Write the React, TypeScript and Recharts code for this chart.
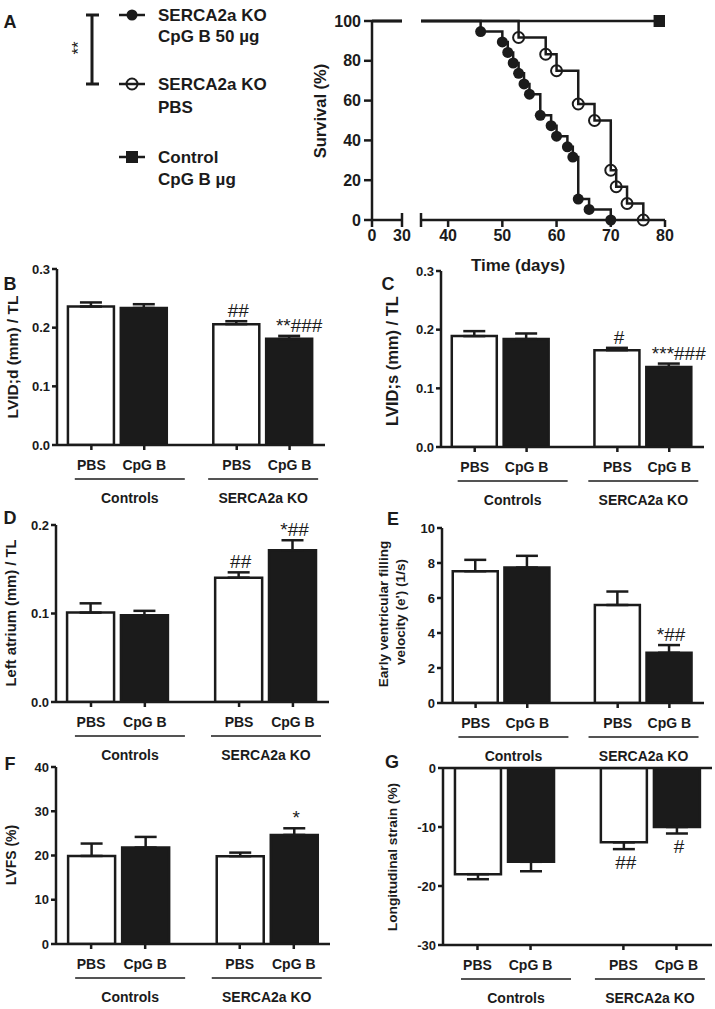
import React from 'react';
import {
  BarChart,
  Bar,
  XAxis,
  YAxis,
  ErrorBar,
  Cell,
  LabelList,
  ReferenceLine,
  LineChart,
  Line,
} from 'recharts';

const FONT = '"Liberation Sans", Arial, Helvetica, sans-serif';
const INK = '#1b1b1b';

// ---- A: Kaplan-Meier survival (day of event -> % surviving after it) ----
const CPG_DAYS = [46, 50, 51, 52, 53, 54, 55, 57, 59, 60, 62, 63, 64, 66, 70];
const CPG_SURVIVAL = [94.7, 89.5, 84.2, 78.9, 73.7, 68.4, 63.2, 52.6, 47.4, 42.1, 36.8, 31.6, 10.5, 5.3, 0];
const PBS_DAYS = [53, 58, 60, 64, 67, 70, 71, 73, 76];
const PBS_SURVIVAL = [91.7, 83.3, 75, 58.3, 50, 25, 16.7, 8.3, 0];
const CTRL_DAYS = [79];
const CTRL_SURVIVAL = [100];
const SURV_TICKS = [0, 20, 40, 60, 80, 100];
const DAY_TICKS_LEFT = [0, 30];
const DAY_TICKS_RIGHT = [35, 40, 50, 60, 70, 80];

// ---- B-G: echo bars ----
const TREATMENTS = ['PBS', 'CpG B', 'PBS', 'CpG B'];
const GROUPS = ['Controls', 'SERCA2a KO'];

const LVIDD_MEAN = [0.236, 0.2335, 0.206, 0.181];
const LVIDD_SEM = [0.007, 0.0065, 0.005, 0.005];
const LVIDD_SIG = ['', '', '##', '**###'];

const LVIDS_MEAN = [0.189, 0.184, 0.165, 0.1365];
const LVIDS_SEM = [0.0085, 0.0095, 0.004, 0.0057];
const LVIDS_SIG = ['', '', '#', '***###'];

const LA_MEAN = [0.101, 0.098, 0.1405, 0.1715];
const LA_SEM = [0.0105, 0.005, 0.006, 0.0113];
const LA_SIG = ['', '', '##', '*##'];

const EPRIME_MEAN = [7.53, 7.74, 5.6, 2.87];
const EPRIME_SEM = [0.65, 0.67, 0.77, 0.44];
const EPRIME_SIG = ['', '', '', '*##'];

const LVFS_MEAN = [19.9, 21.8, 19.85, 24.65];
const LVFS_SEM = [2.8, 2.4, 0.8, 1.5];
const LVFS_SIG = ['', '', '', '*'];

const STRAIN_MEAN = [-18.0, -15.9, -12.6, -10.0];
const STRAIN_SEM = [0.85, 1.6, 1.15, 1.1];
const STRAIN_SIG = ['', '', '##', '#'];

const stepAt = (days: number[], surv: number[], day: number) => {
  let v = 100;
  days.forEach((d, i) => {
    if (d <= day) v = surv[i];
  });
  return v;
};

const segment = (days: number[], surv: number[], from: number, to: number, closeEnd: boolean) => {
  const pts = [{ day: from, pct: stepAt(days, surv, from) }];
  days.forEach((d, i) => {
    if (d > from && d <= to) pts.push({ day: d, pct: surv[i] });
  });
  if (closeEnd) pts.push({ day: to, pct: stepAt(days, surv, to) });
  return pts;
};

const makeDot = (kind: string) => (p: any) => {
  const { cx, cy, index, key } = p;
  if (index === 0 || cx == null) return <g key={key} />;
  if (kind === 'filled') return <circle key={key} cx={cx} cy={cy} r={5.5} fill={INK} />;
  if (kind === 'open')
    return <circle key={key} cx={cx} cy={cy} r={5.5} fill="none" stroke={INK} strokeWidth={2} />;
  return <rect key={key} x={cx - 6} y={cy - 6} width={12} height={12} fill={INK} />;
};

const survTick = (breakAt: number) => (p: any) => {
  const { x, y, payload } = p;
  const axisY = y - 10;
  return (
    <g>
      {payload.value === breakAt && (
        <line x1={x} x2={x} y1={axisY - 7} y2={axisY} stroke={INK} strokeWidth={2.5} />
      )}
      <text x={x} y={y} dy="0.71em" textAnchor="middle" fontSize={16} fontWeight="bold" fill={INK} fontFamily={FONT}>
        {payload.value === 35 ? '' : payload.value}
      </text>
    </g>
  );
};

function Survival() {
  const axisStyle = { stroke: INK, strokeWidth: 2.5 };
  const series = [
    { days: CPG_DAYS, surv: CPG_SURVIVAL, dot: 'filled' },
    { days: PBS_DAYS, surv: PBS_SURVIVAL, dot: 'open' },
    { days: CTRL_DAYS, surv: CTRL_SURVIVAL, dot: 'square' },
  ];
  return (
    <>
      <div style={{ position: 'absolute', left: 300, top: 0 }}>
        <LineChart width={114} height={280} margin={{ top: 21, right: 12, left: 0, bottom: 10 }}>
          <XAxis
            type="number"
            dataKey="day"
            domain={[0, 30]}
            ticks={DAY_TICKS_LEFT}
            interval={0}
            allowDataOverflow
            height={50}
            tickSize={7}
            tickMargin={3}
            axisLine={axisStyle}
            tickLine={axisStyle}
            tick={survTick(30)}
          />
          <YAxis
            type="number"
            domain={[0, 100]}
            ticks={SURV_TICKS}
            interval={0}
            width={72}
            tickSize={8}
            tickMargin={3}
            axisLine={axisStyle}
            tickLine={axisStyle}
            tick={{ fontSize: 16, fontWeight: 'bold', fill: INK, fontFamily: FONT }}
          />
          {series.map((s, i) => (
            <Line
              key={i}
              data={segment(s.days, s.surv, 0, 30, true)}
              dataKey="pct"
              type="stepAfter"
              stroke={INK}
              strokeWidth={2.5}
              dot={false}
              isAnimationActive={false}
            />
          ))}
        </LineChart>
      </div>
      <div style={{ position: 'absolute', left: 410, top: 0 }}>
        <LineChart width={275} height={280} margin={{ top: 21, right: 20, left: 11, bottom: 10 }}>
          <XAxis
            type="number"
            dataKey="day"
            domain={[35, 80]}
            ticks={DAY_TICKS_RIGHT}
            interval={0}
            allowDataOverflow
            height={50}
            tickSize={7}
            tickMargin={3}
            axisLine={axisStyle}
            tickLine={axisStyle}
            tick={survTick(35)}
          />
          <YAxis hide width={0} type="number" domain={[0, 100]} />
          {series.map((s, i) => (
            <Line
              key={i}
              data={segment(s.days, s.surv, 35, 80, false)}
              dataKey="pct"
              type="stepAfter"
              stroke={INK}
              strokeWidth={2.5}
              dot={makeDot(s.dot)}
              isAnimationActive={false}
            />
          ))}
        </LineChart>
      </div>
    </>
  );
}

const X_MIN = 0.35;
const X_MAX = 5.42;
const slotOf = (i: number) => i + 1 + (i >= 2 ? 0.75 : 0);

type PanelProps = {
  left: number;
  top: number;
  width: number;
  height: number;
  domain: [number, number];
  ticks: number[];
  digits: number;
  mean: number[];
  sem: number[];
  sig: string[];
  zeroLine?: boolean;
};

function BarPanel(p: PanelProps) {
  const MT = 12;
  const YW = 60;
  const MR = 14;
  const XH = 64;
  const slots = TREATMENTS.map((_, i) => slotOf(i));
  const data = p.mean.map((m, i) => ({
    slot: slots[i],
    m,
    err: m >= 0 ? [0, p.sem[i]] : [p.sem[i], 0],
  }));
  const unit = p.width / (X_MAX - X_MIN);
  const barSize = Math.round(unit * 0.87);
  const axisStyle = { stroke: INK, strokeWidth: 2.5 };
  const lbl = { fontWeight: 'bold' as const, fill: INK, fontFamily: FONT, fontSize: 14 };

  const sigContent = (props: any) => {
    const vb = props.viewBox || props;
    let i = props.index;
    if (i == null) i = p.mean.indexOf(props.value);
    const text = p.sig[i];
    if (!text) return null;
    const m = p.mean[i];
    const h = vb.height;
    const ppu = Math.abs(h / m);
    const cx = vb.x + vb.width / 2 + (text.includes('*') && text.length > 3 ? 10 : 2);
    const style = { fontSize: 19, fill: INK, fontFamily: FONT };
    if (m >= 0) {
      const top = Math.min(vb.y, vb.y + h) - p.sem[i] * ppu;
      return (
        <text x={cx} y={top - 4} textAnchor="middle" {...style}>
          {text}
        </text>
      );
    }
    const bottom = Math.max(vb.y, vb.y + h) + p.sem[i] * ppu;
    return (
      <text x={cx} y={bottom + 20} textAnchor="middle" {...style}>
        {text}
      </text>
    );
  };

  // treatment label under each bar; group rule + name under every pair
  const treatTick = (t: any) => {
    const { x, y, payload } = t;
    const i = slots.indexOf(payload.value);
    const pairEnd = i % 2 === 1;
    const gx = x - unit / 2 + (i === 1 ? 12 : 0);
    return (
      <g>
        <text x={x} y={y} dy="0.71em" textAnchor="middle" {...lbl}>
          {TREATMENTS[i]}
        </text>
        {pairEnd && (
          <g>
            <line x1={gx - 55} x2={gx + 55} y1={y + 19} y2={y + 19} stroke={INK} strokeWidth={1.5} />
            <text x={gx} y={y + 43} textAnchor="middle" {...lbl}>
              {GROUPS[(i - 1) / 2]}
            </text>
          </g>
        )}
      </g>
    );
  };

  return (
    <div style={{ position: 'absolute', left: p.left - YW, top: p.top - MT }}>
      <BarChart
        width={YW + p.width + MR}
        height={MT + p.height + XH + 4}
        data={data}
        margin={{ top: MT, right: MR, left: 0, bottom: 4 }}
      >
        <XAxis
          type="number"
          dataKey="slot"
          domain={[X_MIN, X_MAX]}
          ticks={slots}
          interval={0}
          allowDataOverflow
          height={XH}
          tickSize={5}
          tickMargin={10}
          axisLine={axisStyle}
          tickLine={axisStyle}
          tick={treatTick}
        />
        <YAxis
          type="number"
          domain={p.domain}
          ticks={p.ticks}
          interval={0}
          allowDataOverflow
          width={YW}
          tickSize={5}
          tickMargin={2}
          axisLine={axisStyle}
          tickLine={axisStyle}
          tickFormatter={(v: number) => v.toFixed(p.digits)}
          tick={{ fontSize: 13, fontWeight: 'bold', fill: INK, fontFamily: FONT }}
        />
        {p.zeroLine && <ReferenceLine y={0} stroke={INK} strokeWidth={2.5} />}
        <Bar dataKey="m" barSize={barSize} stroke={INK} strokeWidth={2.5} isAnimationActive={false}>
          {data.map((_, i) => (
            <Cell key={i} fill={i % 2 ? INK : '#ffffff'} />
          ))}
          <ErrorBar dataKey="err" width={11} stroke={INK} strokeWidth={2.5} direction="y" />
          <LabelList dataKey="m" content={sigContent} />
        </Bar>
      </BarChart>
    </div>
  );
}

const Rot = ({ x, y, size, children, bold = true }: any) => (
  <text
    transform={`translate(${x},${y}) rotate(-90)`}
    textAnchor="middle"
    dy="0.35em"
    fontSize={size}
    fontWeight={bold ? 'bold' : 'normal'}
    fill={INK}
    fontFamily={FONT}
  >
    {children}
  </text>
);

const Letter = ({ x, y, children }: any) => (
  <text x={x} y={y} dy="0.36em" textAnchor="middle" fontSize={18} fontWeight="bold" fill={INK} fontFamily={FONT}>
    {children}
  </text>
);

function Overlay() {
  const t = { fontSize: 17, fontWeight: 'bold' as const, fill: INK, fontFamily: FONT };
  return (
    <svg
      width={715}
      height={1009}
      style={{ position: 'absolute', left: 0, top: 0, pointerEvents: 'none' }}
    >
      <Letter x={10} y={21.5}>A</Letter>
      <Letter x={10} y={283.5}>B</Letter>
      <Letter x={388} y={283.5}>C</Letter>
      <Letter x={10} y={518}>D</Letter>
      <Letter x={393} y={519}>E</Letter>
      <Letter x={10} y={764}>F</Letter>
      <Letter x={392} y={761.5}>G</Letter>

      {/* legend of A */}
      <line x1={92} x2={92} y1={15} y2={84} stroke={INK} strokeWidth={3} />
      <line x1={86} x2={99} y1={15} y2={15} stroke={INK} strokeWidth={3} />
      <line x1={86} x2={99} y1={84} y2={84} stroke={INK} strokeWidth={3} />
      <Rot x={78} y={48} size={17} bold={false}>**</Rot>

      <line x1={119} x2={145} y1={15} y2={15} stroke={INK} strokeWidth={2.5} />
      <circle cx={132} cy={15} r={5.5} fill={INK} />
      <circle cx={132} cy={84} r={5.5} fill="#fff" stroke={INK} strokeWidth={2} />
      <line x1={119} x2={145} y1={84} y2={84} stroke={INK} strokeWidth={2.5} />
      <line x1={119} x2={145} y1={157} y2={157} stroke={INK} strokeWidth={2.5} />
      <rect x={126} y={151} width={12} height={12} fill={INK} />

      <text x={158} y={21} {...t}>SERCA2a KO</text>
      <text x={158} y={42} {...t}>CpG B 50 µg</text>
      <text x={158} y={90} {...t}>SERCA2a KO</text>
      <text x={158} y={113} {...t}>PBS</text>
      <text x={158} y={163} {...t}>Control</text>
      <text x={158} y={185} {...t}>CpG B µg</text>

      <Rot x={320} y={111} size={16.5}>Survival (%)</Rot>
      <text x={518} y={271} textAnchor="middle" {...t}>Time (days)</text>

      <Rot x={12.5} y={357} size={15.5}>LVID;d (mm) / TL</Rot>
      <Rot x={392.5} y={361} size={16.5}>LVID;s (mm) / TL</Rot>
      <Rot x={11} y={613} size={14.8}>Left atrium (mm) / TL</Rot>
      <Rot x={383} y={614} size={13.6}>Early ventricular filling</Rot>
      <Rot x={400} y={612} size={13.6}>velocity (e') (1/s)</Rot>
      <Rot x={11} y={855} size={14}>LVFS (%)</Rot>
      <Rot x={392.5} y={857} size={13.7}>Longitudinal strain (%)</Rot>
    </svg>
  );
}

export default function App() {
  return (
    <div style={{ position: 'absolute', left: 0, top: 0, width: 715, height: 1009, background: '#fff' }}>
      <Survival />
      <BarPanel left={57} top={269} width={268} height={176} domain={[0, 0.3]} ticks={[0, 0.1, 0.2, 0.3]} digits={1}
        mean={LVIDD_MEAN} sem={LVIDD_SEM} sig={LVIDD_SIG} />
      <BarPanel left={441} top={271} width={263} height={176} domain={[0, 0.3]} ticks={[0, 0.1, 0.2, 0.3]} digits={1}
        mean={LVIDS_MEAN} sem={LVIDS_SEM} sig={LVIDS_SIG} />
      <BarPanel left={56} top={525} width={273} height={177} domain={[0, 0.2]} ticks={[0, 0.1, 0.2]} digits={1}
        mean={LA_MEAN} sem={LA_SEM} sig={LA_SIG} />
      <BarPanel left={442} top={528} width={262} height={175} domain={[0, 10]} ticks={[0, 2, 4, 6, 8, 10]} digits={0}
        mean={EPRIME_MEAN} sem={EPRIME_SEM} sig={EPRIME_SIG} />
      <BarPanel left={56} top={767} width={274} height={177} domain={[0, 40]} ticks={[0, 10, 20, 30, 40]} digits={0}
        mean={LVFS_MEAN} sem={LVFS_SEM} sig={LVFS_SIG} />
      <BarPanel left={443} top={768} width={269} height={177} domain={[-30, 0]} ticks={[-30, -20, -10, 0]} digits={0}
        mean={STRAIN_MEAN} sem={STRAIN_SEM} sig={STRAIN_SIG} zeroLine />
      <Overlay />
    </div>
  );
}
